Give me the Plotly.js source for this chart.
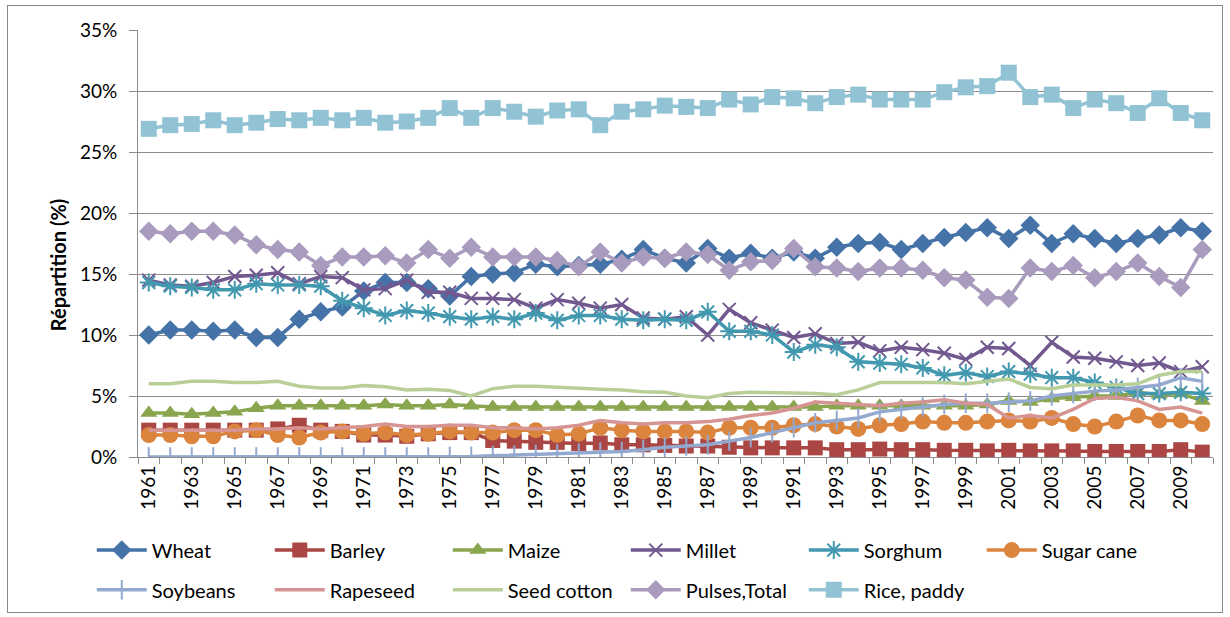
<!DOCTYPE html>
<html>
<head>
<meta charset="utf-8">
<script src="https://cdn.plot.ly/plotly-3.0.1.min.js"></script>
<style>
  html, body { margin: 0; padding: 0; background: #fff; }
  #wrap { position: relative; width: 1230px; height: 617px; }
  #chart { position: absolute; left: 0; top: 0; width: 1230px; height: 617px; }
  #frame { position: absolute; left: 7px; top: 5px; width: 1214px; height: 606px; border: 1px solid #8a8a8a; pointer-events: none; }
</style>
</head>
<body>
<div id="wrap"><div id="chart"></div><div id="frame"></div></div>
<script>
const years = [1961,1962,1963,1964,1965,1966,1967,1968,1969,1970,
  1971,1972,1973,1974,1975,1976,1977,1978,1979,1980,
  1981,1982,1983,1984,1985,1986,1987,1988,1989,1990,
  1991,1992,1993,1994,1995,1996,1997,1998,1999,2000,
  2001,2002,2003,2004,2005,2006,2007,2008,2009,2010];
const tickYears = [1961,1963,1965,1967,1969,1971,1973,1975,1977,1979,1981,1983,1985,1987,1989,1991,1993,1995,1997,1999,2001,2003,2005,2007,2009];

const wheat = [10.0,10.4,10.4,10.3,10.4,9.8,9.8,11.3,11.9,12.3,
  13.6,14.3,14.3,13.8,13.2,14.8,15.0,15.1,15.8,15.6,
  15.7,15.8,16.2,17.0,16.3,15.9,17.1,16.3,16.7,16.3,
  16.8,16.3,17.2,17.5,17.6,17.0,17.5,18.0,18.4,18.8,
  17.9,19.0,17.5,18.3,17.9,17.5,17.9,18.2,18.8,18.5];
const barley = [2.2,2.2,2.2,2.2,2.2,2.2,2.3,2.6,2.2,2.1,
  1.8,1.8,1.7,1.9,2.0,2.0,1.35,1.3,1.2,1.2,
  1.1,1.15,1.0,1.0,0.95,0.9,0.9,0.8,0.75,0.75,
  0.75,0.75,0.6,0.6,0.65,0.6,0.6,0.55,0.55,0.5,
  0.55,0.5,0.5,0.5,0.45,0.45,0.45,0.45,0.6,0.4];
const maize = [3.6,3.6,3.5,3.6,3.7,4.0,4.2,4.2,4.2,4.2,
  4.2,4.3,4.2,4.2,4.3,4.2,4.1,4.1,4.1,4.1,
  4.1,4.1,4.1,4.1,4.1,4.1,4.1,4.1,4.1,4.1,
  4.1,4.1,4.2,4.2,4.2,4.2,4.2,4.2,4.2,4.3,
  4.6,4.5,4.8,4.9,5.0,5.0,5.3,5.1,5.2,4.6];
const millet = [14.5,14.1,14.0,14.3,14.8,14.9,15.1,14.2,14.8,14.7,
  13.7,13.8,14.5,13.5,13.5,13.0,13.0,12.9,12.2,12.9,
  12.6,12.2,12.5,11.4,11.3,11.5,10.0,12.1,11.0,10.4,
  9.8,10.1,9.3,9.4,8.7,9.0,8.8,8.5,8.0,9.0,
  8.9,7.5,9.4,8.2,8.1,7.8,7.5,7.7,7.0,7.4];
const sorghum = [14.3,14.0,13.9,13.7,13.7,14.2,14.1,14.1,14.0,12.8,
  12.2,11.6,12.0,11.8,11.5,11.3,11.5,11.3,11.8,11.2,
  11.6,11.6,11.3,11.2,11.3,11.2,11.9,10.3,10.3,10.0,
  8.6,9.2,9.0,7.8,7.7,7.6,7.3,6.7,6.9,6.6,
  7.0,6.8,6.5,6.5,6.1,5.7,5.2,5.2,5.3,5.2];
const sugarCane = [1.8,1.8,1.7,1.7,2.1,2.2,1.8,1.6,2.0,2.1,
  1.9,2.0,1.8,1.9,2.1,2.0,2.0,2.2,2.2,1.8,
  1.9,2.4,2.2,2.1,2.1,2.1,2.0,2.4,2.4,2.4,
  2.6,2.7,2.5,2.3,2.6,2.7,2.9,2.8,2.8,2.9,
  3.0,2.9,3.2,2.7,2.5,2.9,3.4,3.0,3.0,2.7];
const soybeans = [0.0,0.0,0.0,0.0,0.0,0.0,0.0,0.0,0.0,0.0,
  0.0,0.0,0.0,0.0,0.05,0.05,0.1,0.15,0.2,0.25,
  0.3,0.4,0.45,0.6,0.8,0.9,1.0,1.3,1.6,2.0,
  2.4,2.8,3.0,3.2,3.7,3.9,4.1,4.3,4.4,4.4,
  4.5,4.6,5.0,5.2,5.4,5.5,5.7,5.9,6.5,6.2];
const rapeseed = [2.2,2.2,2.2,2.2,2.2,2.3,2.3,2.4,2.3,2.4,
  2.5,2.7,2.5,2.5,2.6,2.6,2.4,2.4,2.3,2.4,
  2.6,3.0,2.8,2.7,2.8,2.8,2.9,3.1,3.4,3.6,
  4.0,4.5,4.4,4.3,4.2,4.4,4.5,4.7,4.4,4.3,
  3.2,3.4,3.2,3.9,4.8,4.9,4.6,3.9,4.1,3.6];
const seedCotton = [6.0,6.0,6.2,6.2,6.1,6.1,6.2,5.8,5.65,5.65,
  5.85,5.75,5.5,5.55,5.45,5.0,5.6,5.8,5.8,5.7,
  5.6,5.55,5.5,5.35,5.3,5.0,4.85,5.2,5.3,5.3,
  5.25,5.2,5.1,5.5,6.1,6.1,6.1,6.1,6.0,6.2,
  6.4,5.7,5.6,5.9,5.9,5.9,6.0,6.7,7.0,7.0];
const pulses = [18.5,18.3,18.5,18.5,18.2,17.4,17.0,16.8,15.7,16.4,
  16.4,16.5,15.9,17.0,16.3,17.2,16.4,16.4,16.4,16.1,
  15.6,16.8,15.9,16.4,16.3,16.8,16.6,15.3,16.0,16.1,
  17.1,15.6,15.5,15.2,15.5,15.5,15.3,14.7,14.5,13.1,
  13.0,15.5,15.2,15.7,14.7,15.2,15.9,14.8,13.9,17.0];
const rice = [26.9,27.2,27.3,27.6,27.2,27.4,27.7,27.6,27.8,27.6,
  27.8,27.4,27.5,27.8,28.6,27.8,28.6,28.3,27.9,28.4,
  28.5,27.2,28.3,28.5,28.8,28.7,28.6,29.3,28.9,29.5,
  29.4,29.0,29.5,29.7,29.3,29.3,29.3,29.9,30.3,30.4,
  31.5,29.5,29.7,28.6,29.3,29.0,28.2,29.4,28.2,27.6];

const seriesNames = ["Wheat","Barley","Maize","Millet","Sorghum","Sugar cane","Soybeans","Rapeseed","Seed cotton","Pulses,Total","Rice, paddy"];
const seriesValues = [wheat,barley,maize,millet,sorghum,sugarCane,soybeans,rapeseed,seedCotton,pulses,rice];
const seriesColors = ["#4572A7","#AA4643","#89A54E","#71588F","#4198AF","#DB843D","#93A9CF","#D69593","#B9CF98","#A99BBD","#92C3D4"];
const seriesSymbols = ["diamond","square","triangle-up","x-thin-open","asterisk-open","circle","line-ns-open",null,null,"diamond","square"];
const seriesSizes = [15,15,15,13,15,16,14,0,0,15,16];

const FONT = "Lato, 'Open Sans', sans-serif";
const traces = seriesNames.map((name, i) => {
  const t = {
    x: years, y: seriesValues[i], name: name, type: "scatter",
    mode: seriesSymbols[i] ? "lines+markers" : "lines",
    line: {color: seriesColors[i], width: 3.5},
    legend: i < 6 ? "legend" : "legend2",
    hoverinfo: "x+y+name"
  };
  if (seriesSymbols[i]) {
    const open = seriesSymbols[i].indexOf("open") >= 0;
    t.marker = {symbol: seriesSymbols[i], size: seriesSizes[i], color: seriesColors[i],
      line: {color: seriesColors[i], width: open ? 2 : 0}};
  }
  return t;
});

const legendBase = {
  orientation: "h", xanchor: "left", yanchor: "middle",
  entrywidth: 113, entrywidthmode: "pixels", itemwidth: 50,
  font: {family: FONT, size: 20, color: "#000"}, bgcolor: "rgba(0,0,0,0)"
};

const layout = {
  width: 1230, height: 617,
  margin: {l: 138, r: 17, t: 30, b: 160, autoexpand: false},
  paper_bgcolor: "#fff", plot_bgcolor: "#fff",
  font: {family: FONT, size: 18, color: "#000"},
  showlegend: true,
  xaxis: {
    type: "linear", range: [1960.5, 2010.5], automargin: false,
    tickmode: "array", tickvals: tickYears, ticktext: tickYears.map(String),
    tickangle: -90, ticks: "", showgrid: false, zeroline: false,
    showline: true, linecolor: "#8c8c8c", linewidth: 1,
    tickfont: {family: FONT, size: 19, color: "#000"},
    minor: {tickmode: "linear", tick0: 1960.5, dtick: 1, ticks: "outside", ticklen: 6, tickcolor: "#8c8c8c", tickwidth: 1, showgrid: false}
  },
  yaxis: {
    range: [0, 35], dtick: 5, ticksuffix: "%", automargin: false,
    showgrid: true, gridcolor: "#8c8c8c", gridwidth: 1, zeroline: false,
    showline: true, linecolor: "#8c8c8c", linewidth: 1,
    ticks: "outside", ticklen: 8, tickcolor: "#8c8c8c",
    ticklabelstandoff: 8,
    tickfont: {family: FONT, size: 19, color: "#000"}
  },
  annotations: [{
    text: "<b>Répartition (%)</b>", xref: "paper", yref: "paper",
    x: -0.075, y: 0.45, xanchor: "center", yanchor: "middle",
    textangle: -90, showarrow: false, font: {family: FONT, size: 20, color: "#000"}
  }],
  legend: Object.assign({}, legendBase, {x: -0.043, y: -0.218}),
  legend2: Object.assign({}, legendBase, {x: -0.043, y: -0.311})
};

Plotly.newPlot("chart", traces, layout, {displayModeBar: false, staticPlot: true});
</script>
</body>
</html>
